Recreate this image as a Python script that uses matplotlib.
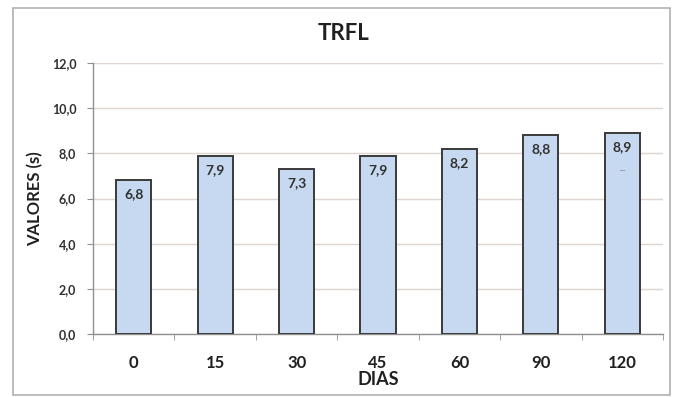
import matplotlib
matplotlib.use("Agg")
import matplotlib.pyplot as plt
from matplotlib.patches import Rectangle

categories = ["0", "15", "30", "45", "60", "90", "120"]
values = [6.8, 7.9, 7.3, 7.9, 8.2, 8.8, 8.9]
yticks = [0, 2, 4, 6, 8, 10, 12]

plt.rcParams['font.family'] = ['Lato', 'DejaVu Sans']

fig = plt.figure(figsize=(6.73, 3.97), dpi=100)
fig.patch.set_facecolor('white')
fig.add_artist(Rectangle((13/673, 1 - 395/397), (670-13)/673, (395-8)/397,
                         transform=fig.transFigure, fill=False,
                         edgecolor='#b0b0b0', linewidth=1.2))

ax = fig.add_axes([93/673, 1 - 334/397, (663-93)/673, (334-63)/397])
x = list(range(len(categories)))
ax.bar(x, values, width=0.43, color='#c6d9f0', edgecolor='#3a3a3a', linewidth=1.4, zorder=3)
for xi, v in zip(x, values):
    ax.text(xi, v - 0.62, f"{v:.1f}".replace('.', ','), ha='center', va='center',
            fontsize=10, fontweight='bold', color='#303030', zorder=4)
ax.text(x[-1], values[-1] - 1.7, "–", ha='center', va='center', fontsize=9, color='#9a9a9a', zorder=4)

ax.set_xlim(-0.5, len(categories) - 0.5)
ax.set_ylim(0, 12)
ax.set_yticks(yticks)
ax.set_yticklabels([f"{t:.1f}".replace('.', ',') for t in yticks], fontsize=9, fontweight='bold', color='#303030')
ax.set_xticks(x)
ax.set_xticklabels(categories, fontsize=12, fontweight='bold', color='#202020')
ax.set_xticks([i + 0.5 for i in range(-1, len(categories))], minor=True)
ax.tick_params(axis='x', which='major', length=0, pad=15)
ax.tick_params(axis='x', which='minor', length=4, color='#909090', direction='out')
ax.tick_params(axis='y', length=4, color='#909090', pad=8)
ax.grid(axis='y', color='#ded4d0', linewidth=1.0, zorder=0)
for s in ['top', 'right']:
    ax.spines[s].set_visible(False)
for s in ['left', 'bottom']:
    ax.spines[s].set_color('#909090')
    ax.spines[s].set_linewidth(1.0)

ax.set_xlabel("DIAS", fontsize=13, fontweight='bold', color='#202020', labelpad=0)
ax.set_ylabel("VALORES (s)", fontsize=12, fontweight='bold', color='#202020', labelpad=6)
fig.text(344/673, 1 - 34/397, "TRFL", ha='center', va='center', fontsize=16, fontweight='bold', color='#202020')

fig.savefig("out.png", dpi=100)
